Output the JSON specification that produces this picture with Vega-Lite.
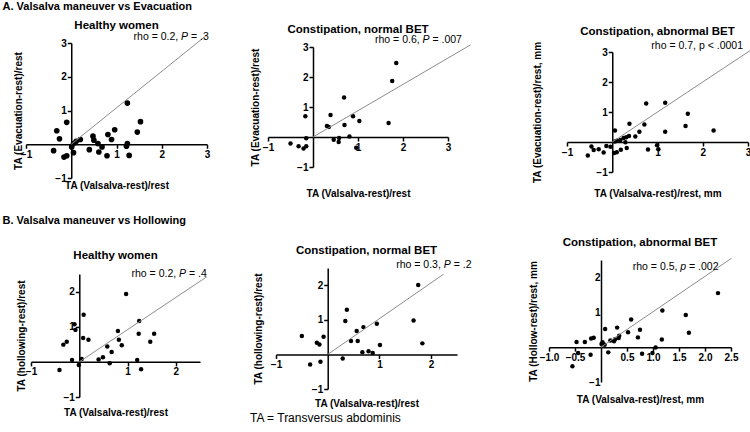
{
"$schema": "https://vega.github.io/schema/vega-lite/v6.json",
"padding": 0,
"title": {"text": "TA = Transversus abdominis", "orient": "bottom", "anchor": "start", "frame": "bounds", "dx": 250, "dy": -5, "offset": 0, "fontSize": 12, "fontWeight": "normal"},
"columns": 3,
"spacing": 0,
"bounds": "flush",
"align": "each",
"datasets": {
"a1": [{"valsalva":1.24,"change":1.22},{"valsalva":1.53,"change":0.67},{"valsalva":1.46,"change":0.36},{"valsalva":0.96,"change":0.43},{"valsalva":0.81,"change":0.29},{"valsalva":0.89,"change":0.14},{"valsalva":0.48,"change":0.24},{"valsalva":0.5,"change":0.12},{"valsalva":0.59,"change":0.02},{"valsalva":0.68,"change":-0.08},{"valsalva":0.61,"change":-0.23},{"valsalva":0.79,"change":-0.34},{"valsalva":0.4,"change":-0.16},{"valsalva":1.24,"change":0.02},{"valsalva":1.22,"change":-0.06},{"valsalva":1.28,"change":-0.33},{"valsalva":-0.1,"change":0.65},{"valsalva":-0.32,"change":0.4},{"valsalva":-0.26,"change":0.16},{"valsalva":-0.39,"change":-0.19},{"valsalva":-0.16,"change":-0.38},{"valsalva":-0.1,"change":-0.34},{"valsalva":0.01,"change":-0.08},{"valsalva":0.05,"change":-0.25},{"valsalva":0.05,"change":0.02},{"valsalva":0.11,"change":0.09},{"valsalva":0.2,"change":0.14}],
"a2": [{"valsalva":1.85,"change":2.47},{"valsalva":1.76,"change":1.87},{"valsalva":1.68,"change":0.47},{"valsalva":0.69,"change":1.32},{"valsalva":0.89,"change":0.69},{"valsalva":1.03,"change":0.53},{"valsalva":0.7,"change":0.4},{"valsalva":0.39,"change":0.73},{"valsalva":0.31,"change":0.37},{"valsalva":0.35,"change":0.33},{"valsalva":0.81,"change":0.02},{"valsalva":0.46,"change":-0.09},{"valsalva":0.58,"change":-0.03},{"valsalva":0.57,"change":-0.17},{"valsalva":0.96,"change":-0.36},{"valsalva":-0.17,"change":0.69},{"valsalva":-0.15,"change":-0.04},{"valsalva":-0.5,"change":-0.22},{"valsalva":-0.32,"change":-0.31},{"valsalva":-0.21,"change":-0.38},{"valsalva":-0.15,"change":-0.31}],
"a3": [{"valsalva":0.75,"change":1.28},{"valsalva":1.17,"change":1.31},{"valsalva":1.67,"change":0.94},{"valsalva":1.62,"change":0.53},{"valsalva":2.24,"change":0.38},{"valsalva":1.17,"change":0.34},{"valsalva":0.71,"change":0.58},{"valsalva":0.38,"change":0.61},{"valsalva":0.6,"change":0.34},{"valsalva":0.51,"change":0.18},{"valsalva":0.37,"change":0.2},{"valsalva":0.31,"change":0.16},{"valsalva":0.25,"change":0.13},{"valsalva":0.18,"change":0.07},{"valsalva":0.1,"change":0.04},{"valsalva":0.06,"change":0.38},{"valsalva":0.06,"change":0.02},{"valsalva":0.29,"change":-0.01},{"valsalva":0.32,"change":-0.2},{"valsalva":0.19,"change":-0.26},{"valsalva":0.1,"change":-0.34},{"valsalva":0.04,"change":-0.37},{"valsalva":-0.04,"change":-0.16},{"valsalva":-0.13,"change":-0.13},{"valsalva":-0.19,"change":-0.35},{"valsalva":-0.3,"change":-0.24},{"valsalva":-0.41,"change":-0.27},{"valsalva":-0.46,"change":-0.15},{"valsalva":-0.54,"change":-0.45},{"valsalva":0.79,"change":-0.25},{"valsalva":0.99,"change":-0.11},{"valsalva":1.02,"change":-0.24}],
"b1": [{"valsalva":0.97,"change":1.93},{"valsalva":1.24,"change":1.16},{"valsalva":1.23,"change":0.8},{"valsalva":1.55,"change":0.8},{"valsalva":1.47,"change":0.57},{"valsalva":0.8,"change":0.88},{"valsalva":0.82,"change":0.63},{"valsalva":0.88,"change":0.47},{"valsalva":0.58,"change":0.44},{"valsalva":0.67,"change":0.28},{"valsalva":0.49,"change":0.13},{"valsalva":0.4,"change":0.07},{"valsalva":0.63,"change":-0.04},{"valsalva":1.2,"change":0.05},{"valsalva":1.28,"change":-0.21},{"valsalva":0.09,"change":1.34},{"valsalva":-0.1,"change":1.07},{"valsalva":-0.08,"change":0.91},{"valsalva":0.08,"change":0.68},{"valsalva":0.19,"change":0.63},{"valsalva":-0.26,"change":0.57},{"valsalva":-0.33,"change":0.49},{"valsalva":-0.15,"change":0.05},{"valsalva":0.05,"change":0.08},{"valsalva":-0.01,"change":-0.09},{"valsalva":-0.41,"change":-0.23}],
"b2": [{"valsalva":1.75,"change":2.01},{"valsalva":1.66,"change":0.98},{"valsalva":1.83,"change":0.32},{"valsalva":0.95,"change":0.89},{"valsalva":0.69,"change":0.79},{"valsalva":0.56,"change":0.68},{"valsalva":0.58,"change":0.39},{"valsalva":0.45,"change":0.39},{"valsalva":0.37,"change":1.29},{"valsalva":0.34,"change":0.97},{"valsalva":1.01,"change":0.27},{"valsalva":0.67,"change":0.06},{"valsalva":0.79,"change":0.09},{"valsalva":0.87,"change":0.04},{"valsalva":0.29,"change":-0.12},{"valsalva":-0.08,"change":0.51},{"valsalva":-0.21,"change":0.34},{"valsalva":-0.16,"change":0.29},{"valsalva":-0.5,"change":0.53},{"valsalva":-0.34,"change":-0.29},{"valsalva":-0.14,"change":-0.21}],
"b3": [{"valsalva":2.25,"change":1.55},{"valsalva":1.63,"change":0.92},{"valsalva":1.69,"change":0.41},{"valsalva":1.18,"change":1.05},{"valsalva":1.17,"change":0.22},{"valsalva":1.05,"change":-0.01},{"valsalva":0.99,"change":-0.17},{"valsalva":0.79,"change":-0.19},{"valsalva":0.58,"change":0.79},{"valsalva":0.75,"change":0.5},{"valsalva":0.71,"change":0.28},{"valsalva":0.52,"change":0.43},{"valsalva":0.31,"change":0.56},{"valsalva":0.35,"change":0.33},{"valsalva":0.34,"change":0.26},{"valsalva":0.27,"change":0.23},{"valsalva":0.18,"change":0.19},{"valsalva":0.25,"change":0.17},{"valsalva":0.08,"change":0.52},{"valsalva":0.03,"change":0.14},{"valsalva":0.07,"change":0.07},{"valsalva":0.01,"change":0.09},{"valsalva":0.14,"change":-0.15},{"valsalva":-0.14,"change":0.27},{"valsalva":-0.19,"change":0.25},{"valsalva":-0.31,"change":0.15},{"valsalva":-0.47,"change":0.15},{"valsalva":-0.44,"change":-0.17},{"valsalva":-0.2,"change":-0.22},{"valsalva":-0.55,"change":-0.55}],
"a1line": [{"valsalva":0,"change":0},{"valsalva":3.0,"change":3.24}],
"a2line": [{"valsalva":0,"change":0},{"valsalva":3.5,"change":3.07}],
"a3line": [{"valsalva":0,"change":0},{"valsalva":3.05,"change":3.05}],
"b1line": [{"valsalva":0,"change":0},{"valsalva":2.64,"change":2.42}],
"b2line": [{"valsalva":0,"change":0},{"valsalva":2.24,"change":2.32}],
"b3line": [{"valsalva":0,"change":0},{"valsalva":2.51,"change":2.55}],
"one": [{}]
},
"concat": [
{
"width": 258, "height": 205,
"title": {"text": "Healthy women", "align": "center", "dx": 116.5, "dy": 35},
"resolve": {"axis": {"x": "independent", "y": "independent"}},
"layer": [
{"data": {"name": "a1"}, "mark": {"type": "point", "filled": true, "color": "black", "opacity": 1, "size": 32},
"encoding": {
"x": {"field": "valsalva", "type": "quantitative", "scale": {"domain": [-1, 3], "range": [26, 207], "nice": false, "zero": false}, "axis": {"title": "TA (Valsalva-rest)/rest", "orient": "bottom", "offset": -60.75, "values": [-1, 1, 2, 3], "titleY": 41, "titleBaseline": "middle"}},
"y": {"field": "change", "type": "quantitative", "scale": {"domain": [-1, 3], "range": [178, 43], "nice": false, "zero": false}, "axis": {"title": "TA (Evacuation-rest)/rest", "orient": "left", "offset": -71.25, "values": [-1, 1, 2, 3], "titleX": -53, "titleBaseline": "middle"}}}},
{"data": {"name": "a1line"}, "mark": {"type": "line", "color": "#8c8c8c", "strokeWidth": 1},
"encoding": {
"x": {"field": "valsalva", "type": "quantitative", "scale": {"domain": [-1, 3], "range": [26, 207], "nice": false, "zero": false}, "axis": {"orient": "top", "domain": false, "ticks": false, "labels": false, "title": "A. Valsalva maneuver vs Evacuation", "titleX": 2, "titleY": 6, "titleAnchor": "start", "titleAlign": "left", "titleBaseline": "middle", "titleFontSize": 11}},
"y": {"field": "change", "type": "quantitative", "scale": {"domain": [-1, 3], "range": [178, 43], "nice": false, "zero": false}, "axis": null}}},
{"data": {"name": "one"}, "mark": {"type": "text", "align": "right", "baseline": "middle", "dx": -30.6},
"encoding": {"x": {"datum": 3.04, "type": "quantitative", "scale": {"domain": [-1, 3], "range": [26, 207], "nice": false, "zero": false}, "axis": null}, "y": {"datum": 3.18, "type": "quantitative", "scale": {"domain": [-1, 3], "range": [178, 43], "nice": false, "zero": false}, "axis": null}, "text": {"value": "rho = 0.2,"}}},
{"data": {"name": "one"}, "mark": {"type": "text", "align": "right", "baseline": "middle", "dx": -20.7, "fontStyle": "italic"},
"encoding": {"x": {"datum": 3.04, "type": "quantitative", "scale": {"domain": [-1, 3], "range": [26, 207], "nice": false, "zero": false}, "axis": null}, "y": {"datum": 3.18, "type": "quantitative", "scale": {"domain": [-1, 3], "range": [178, 43], "nice": false, "zero": false}, "axis": null}, "text": {"value": "P"}}},
{"data": {"name": "one"}, "mark": {"type": "text", "align": "right", "baseline": "middle"},
"encoding": {"x": {"datum": 3.04, "type": "quantitative", "scale": {"domain": [-1, 3], "range": [26, 207], "nice": false, "zero": false}, "axis": null}, "y": {"datum": 3.18, "type": "quantitative", "scale": {"domain": [-1, 3], "range": [178, 43], "nice": false, "zero": false}, "axis": null}, "text": {"value": "= .3"}}}
]
},
{
"width": 282, "height": 205,
"title": {"text": "Constipation, normal BET", "align": "center", "dx": 100, "dy": 39},
"resolve": {"axis": {"x": "independent", "y": "independent"}},
"layer": [
{"data": {"name": "a2"}, "mark": {"type": "point", "filled": true, "color": "black", "opacity": 1, "size": 20},
"encoding": {
"x": {"field": "valsalva", "type": "quantitative", "scale": {"domain": [-1, 3], "range": [10, 190], "nice": false, "zero": false}, "axis": {"title": "TA (Valsalva-rest)/rest", "orient": "bottom", "offset": -68, "values": [-1, 1, 2, 3], "titleY": 56, "titleBaseline": "middle"}},
"y": {"field": "change", "type": "quantitative", "scale": {"domain": [-1, 3], "range": [167, 47], "nice": false, "zero": false}, "axis": {"title": "TA (Evacuation-rest)/rest", "orient": "left", "offset": -55, "values": [-1, 1, 2, 3], "titleX": -58, "titleBaseline": "middle"}}}},
{"data": {"name": "a2line"}, "mark": {"type": "line", "color": "#8c8c8c", "strokeWidth": 1},
"encoding": {
"x": {"field": "valsalva", "type": "quantitative", "scale": {"domain": [-1, 3], "range": [10, 190], "nice": false, "zero": false}, "axis": null},
"y": {"field": "change", "type": "quantitative", "scale": {"domain": [-1, 3], "range": [167, 47], "nice": false, "zero": false}, "axis": null}}},
{"data": {"name": "one"}, "mark": {"type": "text", "align": "right", "baseline": "middle", "dx": -42.3},
"encoding": {"x": {"datum": 3.31, "type": "quantitative", "scale": {"domain": [-1, 3], "range": [10, 190], "nice": false, "zero": false}, "axis": null}, "y": {"datum": 3.23, "type": "quantitative", "scale": {"domain": [-1, 3], "range": [167, 47], "nice": false, "zero": false}, "axis": null}, "text": {"value": "rho = 0.6,"}}},
{"data": {"name": "one"}, "mark": {"type": "text", "align": "right", "baseline": "middle", "dx": -32.4, "fontStyle": "italic"},
"encoding": {"x": {"datum": 3.31, "type": "quantitative", "scale": {"domain": [-1, 3], "range": [10, 190], "nice": false, "zero": false}, "axis": null}, "y": {"datum": 3.23, "type": "quantitative", "scale": {"domain": [-1, 3], "range": [167, 47], "nice": false, "zero": false}, "axis": null}, "text": {"value": "P"}}},
{"data": {"name": "one"}, "mark": {"type": "text", "align": "right", "baseline": "middle"},
"encoding": {"x": {"datum": 3.31, "type": "quantitative", "scale": {"domain": [-1, 3], "range": [10, 190], "nice": false, "zero": false}, "axis": null}, "y": {"datum": 3.23, "type": "quantitative", "scale": {"domain": [-1, 3], "range": [167, 47], "nice": false, "zero": false}, "axis": null}, "text": {"value": "= .007"}}}
]
},
{
"width": 210, "height": 205,
"title": {"text": "Constipation, abnormal BET", "align": "center", "dx": 117.5, "dy": 41},
"resolve": {"axis": {"x": "independent", "y": "independent"}},
"layer": [
{"data": {"name": "a3"}, "mark": {"type": "point", "filled": true, "color": "black", "opacity": 1, "size": 20},
"encoding": {
"x": {"field": "valsalva", "type": "quantitative", "scale": {"domain": [-1, 3], "range": [27, 208], "nice": false, "zero": false}, "axis": {"title": "TA (Valsalva-rest)/rest, mm", "orient": "bottom", "offset": -63, "values": [-1, 1, 2, 3], "titleY": 51, "titleBaseline": "middle"}},
"y": {"field": "change", "type": "quantitative", "scale": {"domain": [-1, 3], "range": [172, 52], "nice": false, "zero": false}, "axis": {"title": "TA (Evacuation-rest)/rest, mm", "orient": "left", "offset": -72.25, "values": [-1, 1, 2, 3], "titleX": -75, "titleBaseline": "middle"}}}},
{"data": {"name": "a3line"}, "mark": {"type": "line", "color": "#8c8c8c", "strokeWidth": 1},
"encoding": {
"x": {"field": "valsalva", "type": "quantitative", "scale": {"domain": [-1, 3], "range": [27, 208], "nice": false, "zero": false}, "axis": null},
"y": {"field": "change", "type": "quantitative", "scale": {"domain": [-1, 3], "range": [172, 52], "nice": false, "zero": false}, "axis": null}}},
{"data": {"name": "one"}, "mark": {"type": "text", "align": "right", "baseline": "middle"},
"encoding": {"x": {"datum": 2.89, "type": "quantitative", "scale": {"domain": [-1, 3], "range": [27, 208], "nice": false, "zero": false}, "axis": null}, "y": {"datum": 3.19, "type": "quantitative", "scale": {"domain": [-1, 3], "range": [172, 52], "nice": false, "zero": false}, "axis": null}, "text": {"value": "rho = 0.7, p < .0001"}}}
]
},
{
"width": 258, "height": 200,
"title": {"text": "Healthy women", "align": "center", "dx": 115.5, "dy": 60},
"resolve": {"axis": {"x": "independent", "y": "independent"}},
"layer": [
{"data": {"name": "b1"}, "mark": {"type": "point", "filled": true, "color": "black", "opacity": 1, "size": 20},
"encoding": {
"x": {"field": "valsalva", "type": "quantitative", "scale": {"domain": [-1, 2.5], "range": [31, 200], "nice": false, "zero": false}, "axis": {"title": "TA (Valsalva-rest)/rest", "orient": "bottom", "offset": -43.14, "values": [-1, 1, 2], "titleY": 51, "titleBaseline": "middle"}},
"y": {"field": "change", "type": "quantitative", "scale": {"domain": [-1, 2.5], "range": [192, 69], "nice": false, "zero": false}, "axis": {"title": "TA (hollowing-rest)/rest", "orient": "left", "offset": -79.29, "values": [-1, 1, 2], "titleX": -58, "titleBaseline": "middle"}}}},
{"data": {"name": "b1line"}, "mark": {"type": "line", "color": "#8c8c8c", "strokeWidth": 1},
"encoding": {
"x": {"field": "valsalva", "type": "quantitative", "scale": {"domain": [-1, 2.5], "range": [31, 200], "nice": false, "zero": false}, "axis": {"orient": "top", "domain": false, "ticks": false, "labels": false, "title": "B. Valsalva maneuver vs Hollowing", "titleX": 2, "titleY": 15, "titleAnchor": "start", "titleAlign": "left", "titleBaseline": "middle", "titleFontSize": 11}},
"y": {"field": "change", "type": "quantitative", "scale": {"domain": [-1, 2.5], "range": [192, 69], "nice": false, "zero": false}, "axis": null}}},
{"data": {"name": "one"}, "mark": {"type": "text", "align": "right", "baseline": "middle", "dx": -30.6},
"encoding": {"x": {"datum": 2.64, "type": "quantitative", "scale": {"domain": [-1, 2.5], "range": [31, 200], "nice": false, "zero": false}, "axis": null}, "y": {"datum": 2.5, "type": "quantitative", "scale": {"domain": [-1, 2.5], "range": [192, 69], "nice": false, "zero": false}, "axis": null}, "text": {"value": "rho = 0.2,"}}},
{"data": {"name": "one"}, "mark": {"type": "text", "align": "right", "baseline": "middle", "dx": -20.7, "fontStyle": "italic"},
"encoding": {"x": {"datum": 2.64, "type": "quantitative", "scale": {"domain": [-1, 2.5], "range": [31, 200], "nice": false, "zero": false}, "axis": null}, "y": {"datum": 2.5, "type": "quantitative", "scale": {"domain": [-1, 2.5], "range": [192, 69], "nice": false, "zero": false}, "axis": null}, "text": {"value": "P"}}},
{"data": {"name": "one"}, "mark": {"type": "text", "align": "right", "baseline": "middle"},
"encoding": {"x": {"datum": 2.64, "type": "quantitative", "scale": {"domain": [-1, 2.5], "range": [31, 200], "nice": false, "zero": false}, "axis": null}, "y": {"datum": 2.5, "type": "quantitative", "scale": {"domain": [-1, 2.5], "range": [192, 69], "nice": false, "zero": false}, "axis": null}, "text": {"value": "= .4"}}}
]
},
{
"width": 282, "height": 200,
"title": {"text": "Constipation, normal BET", "align": "center", "dx": 108.5, "dy": 55},
"resolve": {"axis": {"x": "independent", "y": "independent"}},
"layer": [
{"data": {"name": "b2"}, "mark": {"type": "point", "filled": true, "color": "black", "opacity": 1, "size": 20},
"encoding": {
"x": {"field": "valsalva", "type": "quantitative", "scale": {"domain": [-1, 2.5], "range": [18, 199], "nice": false, "zero": false}, "axis": {"title": "TA (Valsalva-rest)/rest", "orient": "bottom", "offset": -50.57, "values": [-1, 1, 2], "titleY": 49, "titleBaseline": "middle"}},
"y": {"field": "change", "type": "quantitative", "scale": {"domain": [-1, 2.5], "range": [184, 63], "nice": false, "zero": false}, "axis": {"title": "TA (hollowing-rest)/rest", "orient": "left", "offset": -69.71, "values": [-1, 1, 2], "titleX": -69, "titleBaseline": "middle"}}}},
{"data": {"name": "b2line"}, "mark": {"type": "line", "color": "#8c8c8c", "strokeWidth": 1},
"encoding": {
"x": {"field": "valsalva", "type": "quantitative", "scale": {"domain": [-1, 2.5], "range": [18, 199], "nice": false, "zero": false}, "axis": null},
"y": {"field": "change", "type": "quantitative", "scale": {"domain": [-1, 2.5], "range": [184, 63], "nice": false, "zero": false}, "axis": null}}},
{"data": {"name": "one"}, "mark": {"type": "text", "align": "right", "baseline": "middle", "dx": -30.6},
"encoding": {"x": {"datum": 2.78, "type": "quantitative", "scale": {"domain": [-1, 2.5], "range": [18, 199], "nice": false, "zero": false}, "axis": null}, "y": {"datum": 2.6, "type": "quantitative", "scale": {"domain": [-1, 2.5], "range": [184, 63], "nice": false, "zero": false}, "axis": null}, "text": {"value": "rho = 0.3,"}}},
{"data": {"name": "one"}, "mark": {"type": "text", "align": "right", "baseline": "middle", "dx": -20.7, "fontStyle": "italic"},
"encoding": {"x": {"datum": 2.78, "type": "quantitative", "scale": {"domain": [-1, 2.5], "range": [18, 199], "nice": false, "zero": false}, "axis": null}, "y": {"datum": 2.6, "type": "quantitative", "scale": {"domain": [-1, 2.5], "range": [184, 63], "nice": false, "zero": false}, "axis": null}, "text": {"value": "P"}}},
{"data": {"name": "one"}, "mark": {"type": "text", "align": "right", "baseline": "middle"},
"encoding": {"x": {"datum": 2.78, "type": "quantitative", "scale": {"domain": [-1, 2.5], "range": [18, 199], "nice": false, "zero": false}, "axis": null}, "y": {"datum": 2.6, "type": "quantitative", "scale": {"domain": [-1, 2.5], "range": [184, 63], "nice": false, "zero": false}, "axis": null}, "text": {"value": "= .2"}}}
]
},
{
"width": 210, "height": 200,
"title": {"text": "Constipation, abnormal BET", "align": "center", "dx": 100, "dy": 47},
"resolve": {"axis": {"x": "independent", "y": "independent"}},
"layer": [
{"data": {"name": "b3"}, "mark": {"type": "point", "filled": true, "color": "black", "opacity": 1, "size": 20},
"encoding": {
"x": {"field": "valsalva", "type": "quantitative", "scale": {"domain": [-1, 2.5], "range": [9, 191], "nice": false, "zero": false}, "axis": {"title": "TA (Valsalva-rest)/rest, mm", "orient": "bottom", "offset": -57.86, "values": [-1, -0.5, 0.5, 1, 1.5, 2, 2.5], "format": ".1f", "titleY": 52, "titleBaseline": "middle"}},
"y": {"field": "change", "type": "quantitative", "scale": {"domain": [-1, 2.5], "range": [177, 55], "nice": false, "zero": false}, "axis": {"title": "TA (Hollow-rest)/rest, mm", "orient": "left", "offset": -61, "values": [-1, 1, 2], "ticks": false, "titleX": -68, "titleBaseline": "middle"}}}},
{"data": {"name": "b3line"}, "mark": {"type": "line", "color": "#8c8c8c", "strokeWidth": 1},
"encoding": {
"x": {"field": "valsalva", "type": "quantitative", "scale": {"domain": [-1, 2.5], "range": [9, 191], "nice": false, "zero": false}, "axis": null},
"y": {"field": "change", "type": "quantitative", "scale": {"domain": [-1, 2.5], "range": [177, 55], "nice": false, "zero": false}, "axis": null}}},
{"data": {"name": "one"}, "mark": {"type": "text", "align": "right", "baseline": "middle", "dx": -41.1},
"encoding": {"x": {"datum": 2.26, "type": "quantitative", "scale": {"domain": [-1, 2.5], "range": [9, 191], "nice": false, "zero": false}, "axis": null}, "y": {"datum": 2.31, "type": "quantitative", "scale": {"domain": [-1, 2.5], "range": [177, 55], "nice": false, "zero": false}, "axis": null}, "text": {"value": "rho = 0.5,"}}},
{"data": {"name": "one"}, "mark": {"type": "text", "align": "right", "baseline": "middle", "dx": -32.4, "fontStyle": "italic"},
"encoding": {"x": {"datum": 2.26, "type": "quantitative", "scale": {"domain": [-1, 2.5], "range": [9, 191], "nice": false, "zero": false}, "axis": null}, "y": {"datum": 2.31, "type": "quantitative", "scale": {"domain": [-1, 2.5], "range": [177, 55], "nice": false, "zero": false}, "axis": null}, "text": {"value": "p"}}},
{"data": {"name": "one"}, "mark": {"type": "text", "align": "right", "baseline": "middle"},
"encoding": {"x": {"datum": 2.26, "type": "quantitative", "scale": {"domain": [-1, 2.5], "range": [9, 191], "nice": false, "zero": false}, "axis": null}, "y": {"datum": 2.31, "type": "quantitative", "scale": {"domain": [-1, 2.5], "range": [177, 55], "nice": false, "zero": false}, "axis": null}, "text": {"value": "= .002"}}}
]
}
],
"config": {
"view": {"stroke": null},
"font": "Liberation Sans",
"axis": {"domainColor": "black", "domainWidth": 1.5, "tickColor": "black", "tickWidth": 1.5, "tickSize": 4, "labelFont": "Liberation Sans", "labelFontSize": 10, "labelFontWeight": "bold", "labelColor": "black", "labelPadding": 1, "labelFlush": false, "labelOverlap": false, "titleFont": "Liberation Sans", "titleFontSize": 10, "titleFontWeight": "bold", "titleColor": "black", "grid": false},
"title": {"font": "Liberation Sans", "fontSize": 11.5, "fontWeight": "bold", "color": "black", "anchor": "start", "frame": "group", "offset": 0},
"text": {"font": "Liberation Sans", "fontSize": 10.5, "color": "black"}
}
}
